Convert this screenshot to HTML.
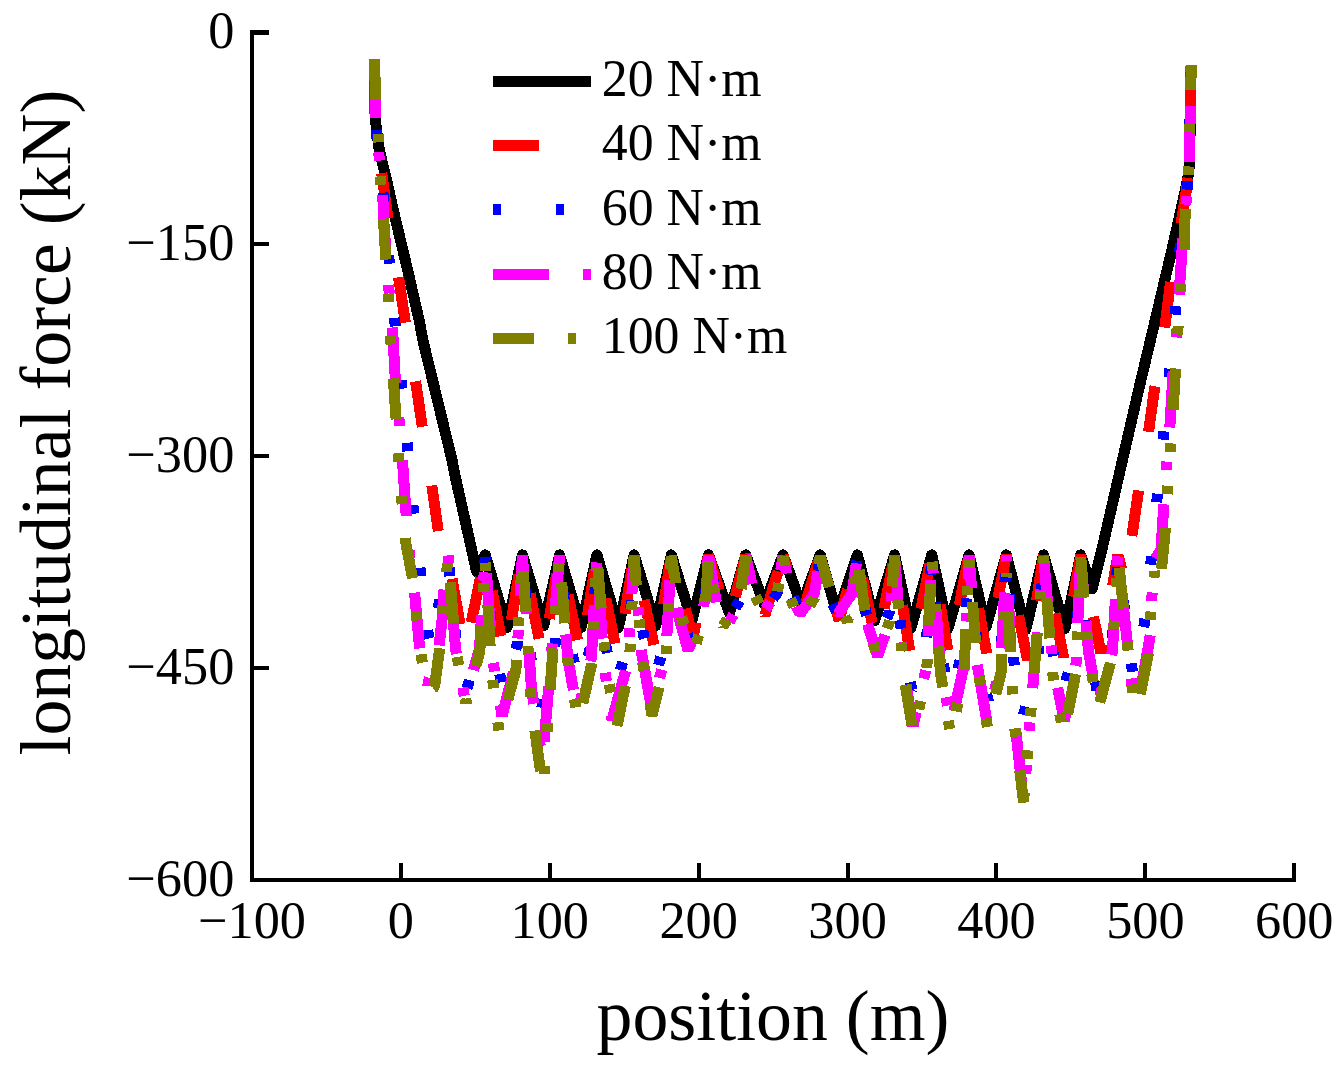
<!DOCTYPE html>
<html><head><meta charset="utf-8"><title>longitudinal force</title>
<style>
html,body{margin:0;padding:0;background:#fff;}
body{width:1342px;height:1072px;overflow:hidden;}
svg{display:block;}
text{font-family:"Liberation Serif",serif;fill:#000;}
.t{font-size:52.3px;}
.a{font-size:71.8px;}
.l{font-size:51.8px;}
.b{stroke-linejoin:bevel !important;}
.c{fill:none;stroke-width:11;stroke-linejoin:round;stroke-linecap:butt;}
</style></head><body>
<svg width="1342" height="1072" viewBox="0 0 1342 1072">
<rect width="1342" height="1072" fill="#fff"/>

<g shape-rendering="crispEdges">
<path class="c" stroke="#000000" d="M374.8 70.0 L375.4 120.0 L378.8 147.0 L382.9 165.0 L386.6 180.0 L393.3 210.0 L407.5 269.5 L419.1 320.0 L422.8 340.0 L452.0 460.0 L456.0 480.0 L476.6 571.5 L485.2 554.9 L507.0 627.6 L522.4 554.9 L543.7 625.6 L559.6 554.9 L581.0 627.7 L596.9 554.9 L618.4 627.7 L634.1 554.9 L655.7 625.6 L671.3 554.9 L692.0 620.5 L708.5 554.9 L729.4 613.0 L745.7 554.9 L764.5 604.5 L783.0 554.9 L801.5 605.5 L820.2 554.9 L837.3 614.4 L857.4 554.9 L874.6 621.0 L894.6 554.9 L910.7 628.4 L931.8 554.9 L948.0 628.4 L969.1 554.9 L986.0 627.0 L1006.3 554.9 L1025.7 629.9 L1043.5 554.9 L1065.0 628.4 L1080.7 554.9 L1092.0 589.0 L1101.8 550.0 L1138.6 390.0 L1171.9 250.0 L1184.0 196.0 L1187.7 178.7 L1189.5 165.0 L1190.3 120.0 L1190.8 70.0"/>
<path class="c b" stroke="#ff0000" stroke-dasharray="46 59.5" stroke-dashoffset="0" d="M374.5 68.0 L375.0 114.0 L377.0 140.0 L381.5 172.0 L388.0 218.0 L398.5 276.7 L405.3 322.5 L415.7 382.0 L422.4 427.5 L432.0 486.9 L438.5 532.4 L441.5 553.0 L447.5 549.0 L452.0 578.7 L460.0 623.6 L465.0 652.5 L485.2 555.0 L505.0 657.5 L522.4 555.0 L543.0 658.0 L559.6 555.0 L581.0 657.0 L596.9 555.0 L618.0 658.0 L634.1 555.0 L656.0 654.0 L671.3 555.0 L693.0 638.0 L708.5 555.0 L729.0 622.0 L745.7 555.0 L765.0 615.0 L783.0 555.0"/>
<path class="c b" stroke="#ff0000" stroke-dasharray="46 59.5" stroke-dashoffset="101" d="M1191.0 68.0 L1190.8 110.0 L1189.0 172.0 L1185.0 200.0 L1178.0 240.0 L1170.6 281.5 L1164.8 327.8 L1154.4 390.0 L1148.4 432.5 L1138.7 490.0 L1131.6 537.8 L1125.0 582.0 L1117.9 555.0 L1101.0 653.0 L1080.7 555.0 L1063.5 657.0 L1043.5 555.0 L1027.5 660.0 L1006.3 555.0 L987.0 655.0 L969.1 555.0 L949.0 657.0 L931.8 555.0 L911.0 659.0 L894.6 555.0 L877.0 645.0 L857.4 555.0 L839.0 620.0 L820.2 555.0 L802.0 615.0 L783.0 555.0"/>
<path class="c b" stroke="#0000ff" stroke-dasharray="8.5 54.3" stroke-dashoffset="0" d="M374.5 67.5 L376.6 134.5 L383.0 193.0 L389.0 259.0 L394.9 322.5 L401.6 385.0 L407.5 447.8 L413.4 510.4 L420.5 573.0 L428.5 636.0 L432.0 650.0 L438.5 606.0 L448.0 557.0 L456.3 643.5 L466.5 690.0 L480.0 643.5 L485.2 557.0 L493.4 644.8 L503.5 692.0 L517.1 644.8 L522.4 557.0 L530.8 657.1 L541.0 711.0 L554.4 657.1 L559.6 557.0 L568.8 640.9 L580.0 686.0 L592.1 640.9 L596.9 557.0 L605.0 642.1 L615.0 688.0 L628.7 642.1 L634.1 557.0 L643.5 635.6 L655.0 678.0 L666.7 635.6 L671.3 557.0 L680.6 614.9 L692.0 646.0 L703.9 614.9 L708.5 557.0 L716.8 599.2 L727.0 622.0 L740.5 599.2 L745.7 557.0 L754.0 592.1 L764.0 611.0 L777.7 592.1 L783.0 557.0"/>
<path class="c b" stroke="#0000ff" stroke-dasharray="8.5 54.3" stroke-dashoffset="11.3" d="M1191.0 67.0 L1190.0 120.0 L1187.7 185.0 L1180.0 247.0 L1175.5 310.6 L1169.5 373.0 L1163.4 436.0 L1157.0 499.0 L1151.0 561.0 L1144.5 623.6 L1133.0 676.0 L1117.9 557.0 L1112.1 643.5 L1097.0 690.0 L1088.0 643.5 L1080.7 557.0 L1075.5 646.7 L1062.0 695.0 L1051.8 646.7 L1043.5 557.0 L1037.8 661.0 L1023.0 717.0 L1013.8 661.0 L1006.3 557.0 L1001.2 650.0 L988.0 700.0 L977.6 650.0 L969.1 557.0 L963.7 648.0 L950.0 697.0 L940.0 648.0 L931.8 557.0 L926.3 643.5 L912.0 690.0 L902.4 643.5 L894.6 557.0 L889.4 612.2 L876.0 642.0 L865.8 612.2 L857.4 557.0 L852.0 594.7 L838.0 615.0 L828.2 594.7 L820.2 557.0 L814.8 592.8 L801.0 612.0 L791.1 592.8 L783.0 557.0"/>
<path class="c b" stroke="#ff00ff" stroke-dasharray="56 34.3 8.5 34.3" stroke-dashoffset="0" d="M374.5 62.0 L376.0 118.0 L379.0 156.0 L382.7 194.0 L383.7 220.0 L385.9 250.0 L388.9 289.5 L392.5 328.0 L395.4 381.0 L399.3 422.0 L402.5 461.0 L406.3 517.5 L409.5 555.0 L414.6 593.0 L419.6 648.0 L424.5 678.0 L427.5 684.0 L438.0 655.0 L442.0 620.0 L444.0 590.0 L448.0 555.5 L455.6 649.1 L465.0 699.5 L479.5 649.1 L485.2 555.5 L492.8 659.8 L502.0 716.0 L516.7 659.8 L522.4 555.5 L531.5 689.1 L542.5 761.0 L559.6 555.5 L567.7 657.9 L577.5 713.0 L591.4 657.9 L596.9 555.5 L603.7 662.4 L612.0 720.0 L627.9 662.4 L634.1 555.5 L641.9 654.6 L651.5 708.0 L665.8 654.6 L671.3 555.5 L678.8 616.9 L688.0 650.0 L702.8 616.9 L708.5 555.5 L716.4 602.6 L726.0 628.0 L740.2 602.6 L745.7 555.5 L753.5 592.2 L763.0 612.0 L777.4 592.2 L783.0 555.5"/>
<path class="c b" stroke="#ff00ff" stroke-dasharray="56 34.3 8.5 34.3" stroke-dashoffset="93.1" d="M1191.0 66.0 L1190.5 106.0 L1189.0 163.0 L1186.2 201.0 L1182.0 250.0 L1179.0 295.7 L1176.6 334.5 L1173.0 373.0 L1169.7 429.5 L1166.3 467.6 L1163.7 506.4 L1161.0 550.0 L1154.5 560.0 L1152.0 595.0 L1150.5 634.0 L1140.0 694.0 L1134.0 705.0 L1117.9 555.5 L1112.4 651.4 L1098.0 703.0 L1088.5 651.4 L1080.7 555.5 L1076.1 663.1 L1064.3 721.0 L1052.9 663.1 L1043.5 555.5 L1025.8 773.5"/>
<path class="c b" stroke="#ff00ff" stroke-dasharray="56 34.3 8.5 34.3" stroke-dashoffset="117.1" d="M1023.5 800.0 L1014.0 714.4 L1006.3 555.5 L1000.9 663.7 L987.0 722.0 L977.1 663.7 L969.1 555.5 L964.0 665.7 L951.0 725.0 L940.5 665.7 L931.8 555.5 L926.6 666.3 L913.0 726.0 L902.9 666.3 L894.6 555.5 L889.9 620.8 L877.6 656.0 L866.5 620.8 L857.4 555.5 L852.0 593.5 L838.0 614.0 L828.2 593.5 L820.2 555.5 L814.5 593.5 L800.0 614.0 L790.6 593.5 L783.0 555.5"/>
<path class="c b" stroke="#808000" stroke-dasharray="41 34 8.5 34 8.5 34" stroke-dashoffset="0" d="M374.5 59.0 L375.7 100.0 L378.4 138.5 L380.7 181.5 L383.5 219.5 L385.9 261.3 L388.5 299.5 L390.9 342.5 L393.5 381.2 L396.3 422.2 L398.6 460.4 L402.0 503.0 L405.5 541.3 L412.5 578.5 L416.6 617.6 L421.8 659.8 L429.0 691.0 L434.5 687.0 L440.4 643.0 L443.8 605.7 L447.5 562.4 L448.0 556.0 L456.1 651.5 L466.0 703.0 L479.8 651.5 L485.2 556.0 L491.4 670.1 L499.0 731.5 L515.9 670.1 L522.4 556.0 L531.7 707.8 L543.0 789.5 L559.6 556.0 L568.1 663.9 L578.5 722.0 L591.7 663.9 L596.9 556.0 L605.9 666.5 L617.0 726.0 L629.3 666.5 L634.1 556.0 L642.1 659.7 L652.0 715.5 L665.9 659.7 L671.3 556.0 L681.5 617.1 L694.0 650.0 L704.5 617.1 L708.5 556.0 L715.0 601.5 L723.0 626.0 L739.4 601.5 L745.7 556.0 L753.5 592.4 L763.0 612.0 L777.4 592.4 L783.0 556.0"/>
<path class="c b" stroke="#808000" stroke-dasharray="41 34 8.5 34 8.5 34" stroke-dashoffset="16" d="M1191.4 65.0 L1189.5 128.0 L1188.4 170.0 L1185.3 209.5 L1184.0 251.0 L1180.4 289.7 L1177.8 331.5 L1175.5 370.3 L1173.0 411.6 L1170.4 450.0 L1167.5 492.2 L1165.2 531.2 L1161.0 573.6 L1158.0 588.0 L1154.5 571.5 L1150.5 617.6 L1148.0 655.7 L1139.5 698.0 L1134.5 710.0 L1117.9 556.0 L1112.4 655.5 L1098.0 709.0 L1088.5 655.5 L1080.7 556.0 L1075.9 672.4 L1063.5 735.0 L1052.5 672.4 L1043.5 556.0 L1023.5 802.0 L1014.0 721.9 L1006.3 573.0 L1001.0 673.1 L987.5 727.0 L977.4 667.1 L969.1 556.0 L964.0 673.6 L951.0 737.0 L940.5 673.6 L931.8 556.0 L926.7 671.7 L913.5 734.0 L903.1 671.7 L894.6 556.0 L889.7 621.0 L877.0 656.0 L866.2 621.0 L857.4 556.0 L854.6 598.2 L847.4 621.0 L832.4 598.2 L820.2 556.0 L814.4 598.2 L799.6 621.0 L790.4 598.2 L783.0 556.0"/>
</g>
<g shape-rendering="crispEdges" fill="#000">
<rect x="250" y="30" width="4" height="852"/>
<rect x="250" y="878" width="1046" height="4"/>
<rect x="252" y="30" width="17" height="5"/>
<rect x="252" y="242" width="17" height="4"/>
<rect x="252" y="454" width="17" height="4"/>
<rect x="252" y="666" width="17" height="4"/>
<rect x="252" y="878" width="17" height="4"/>
<rect x="250" y="863" width="4" height="17"/>
<rect x="399" y="863" width="4" height="17"/>
<rect x="548" y="863" width="4" height="17"/>
<rect x="697" y="863" width="4" height="17"/>
<rect x="846" y="863" width="4" height="17"/>
<rect x="994" y="863" width="4" height="17"/>
<rect x="1143" y="863" width="4" height="17"/>
<rect x="1292" y="863" width="4" height="17"/>
</g>
<text class="t" x="234.3" y="48.3" text-anchor="end">0</text>
<text class="t" x="234.3" y="260.3" text-anchor="end">−150</text>
<text class="t" x="234.3" y="472.3" text-anchor="end">−300</text>
<text class="t" x="234.3" y="684.3" text-anchor="end">−450</text>
<text class="t" x="234.3" y="896.3" text-anchor="end">−600</text>
<text class="t" x="252.0" y="938" text-anchor="middle">−100</text>
<text class="t" x="400.9" y="938" text-anchor="middle">0</text>
<text class="t" x="549.8" y="938" text-anchor="middle">100</text>
<text class="t" x="698.7" y="938" text-anchor="middle">200</text>
<text class="t" x="847.6" y="938" text-anchor="middle">300</text>
<text class="t" x="996.5" y="938" text-anchor="middle">400</text>
<text class="t" x="1145.4" y="938" text-anchor="middle">500</text>
<text class="t" x="1294.3" y="938" text-anchor="middle">600</text>
<text class="a" x="773" y="1040" text-anchor="middle">position (m)</text>
<text class="a" transform="translate(69.7 422.6) rotate(-90)" text-anchor="middle">longitudinal force (kN)</text>
<g shape-rendering="crispEdges">
<path class="c" stroke="#000000" d="M492.8 81.4 H591"/>
<path class="c" stroke="#ff0000" stroke-dasharray="46 59.5" d="M492.8 145.6 H591"/>
<path class="c" stroke="#0000ff" stroke-dasharray="8.5 54.3" d="M492.8 209.8 H591"/>
<path class="c" stroke="#ff00ff" stroke-dasharray="56 34.3 8.5 34.3" d="M492.8 274.0 H591"/>
<path class="c" stroke="#808000" stroke-dasharray="41 34 8.5 34 8.5 34" d="M492.8 338.2 H591"/>
</g>
<text class="l" x="601.8" y="96.2">20 N·m</text>
<text class="l" x="601.8" y="160.4">40 N·m</text>
<text class="l" x="601.8" y="224.6">60 N·m</text>
<text class="l" x="601.8" y="288.8">80 N·m</text>
<text class="l" x="601.8" y="353.0">100 N·m</text>
</svg>
</body></html>
